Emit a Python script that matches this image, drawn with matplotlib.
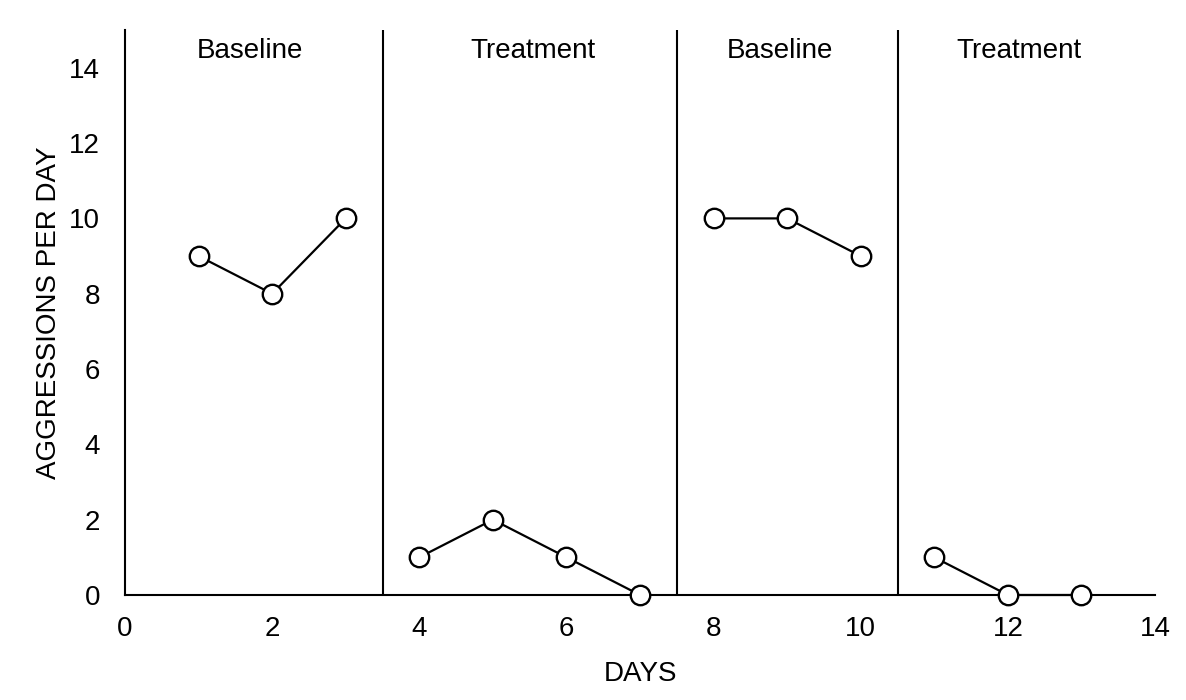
import matplotlib
matplotlib.use("Agg")
import matplotlib.pyplot as plt

plt.rcParams['font.family'] = ['Liberation Sans', 'DejaVu Sans']

# Data
phase_labels = ["Baseline", "Treatment", "Baseline", "Treatment"]
phase_days = [[1, 2, 3], [4, 5, 6, 7], [8, 9, 10], [11, 12, 13]]
phase_values = [[9, 8, 10], [1, 2, 1, 0], [10, 10, 9], [1, 0, 0]]
phase_lines = [3.5, 7.5, 10.5]
label_x = [1.7, 5.55, 8.9, 12.15]
x_ticks = [0, 2, 4, 6, 8, 10, 12, 14]
y_ticks = [0, 2, 4, 6, 8, 10, 12, 14]

FS = 20

fig = plt.figure(figsize=(11.86, 7.0), dpi=100)
ax = fig.add_axes([0.1054, 0.15, 0.8685, 0.807])

for d, v in zip(phase_days, phase_values):
    ax.plot(d, v, color='black', lw=1.6, marker='o', markersize=14,
            markerfacecolor='white', markeredgecolor='black', markeredgewidth=1.7,
            clip_on=False, zorder=3)

for xl in phase_lines:
    ax.axvline(xl, color='black', lw=1.5)

for lx, lab in zip(label_x, phase_labels):
    ax.text(lx, 14.45, lab, ha='center', va='center', fontsize=FS)

ax.set_xlim(0, 14)
ax.set_ylim(0, 15)
ax.set_xticks(x_ticks)
ax.set_yticks(y_ticks)
ax.tick_params(axis='both', length=0, labelsize=FS)
ax.tick_params(axis='y', pad=18)
ax.tick_params(axis='x', pad=15)
ax.spines['top'].set_visible(False)
ax.spines['right'].set_visible(False)
ax.spines['left'].set_linewidth(1.5)
ax.spines['bottom'].set_linewidth(1.5)
ax.set_xlabel("DAYS", fontsize=FS, labelpad=14)
ax.set_ylabel("AGGRESSIONS PER DAY", fontsize=FS, labelpad=5)

fig.savefig("out.png", dpi=100)
